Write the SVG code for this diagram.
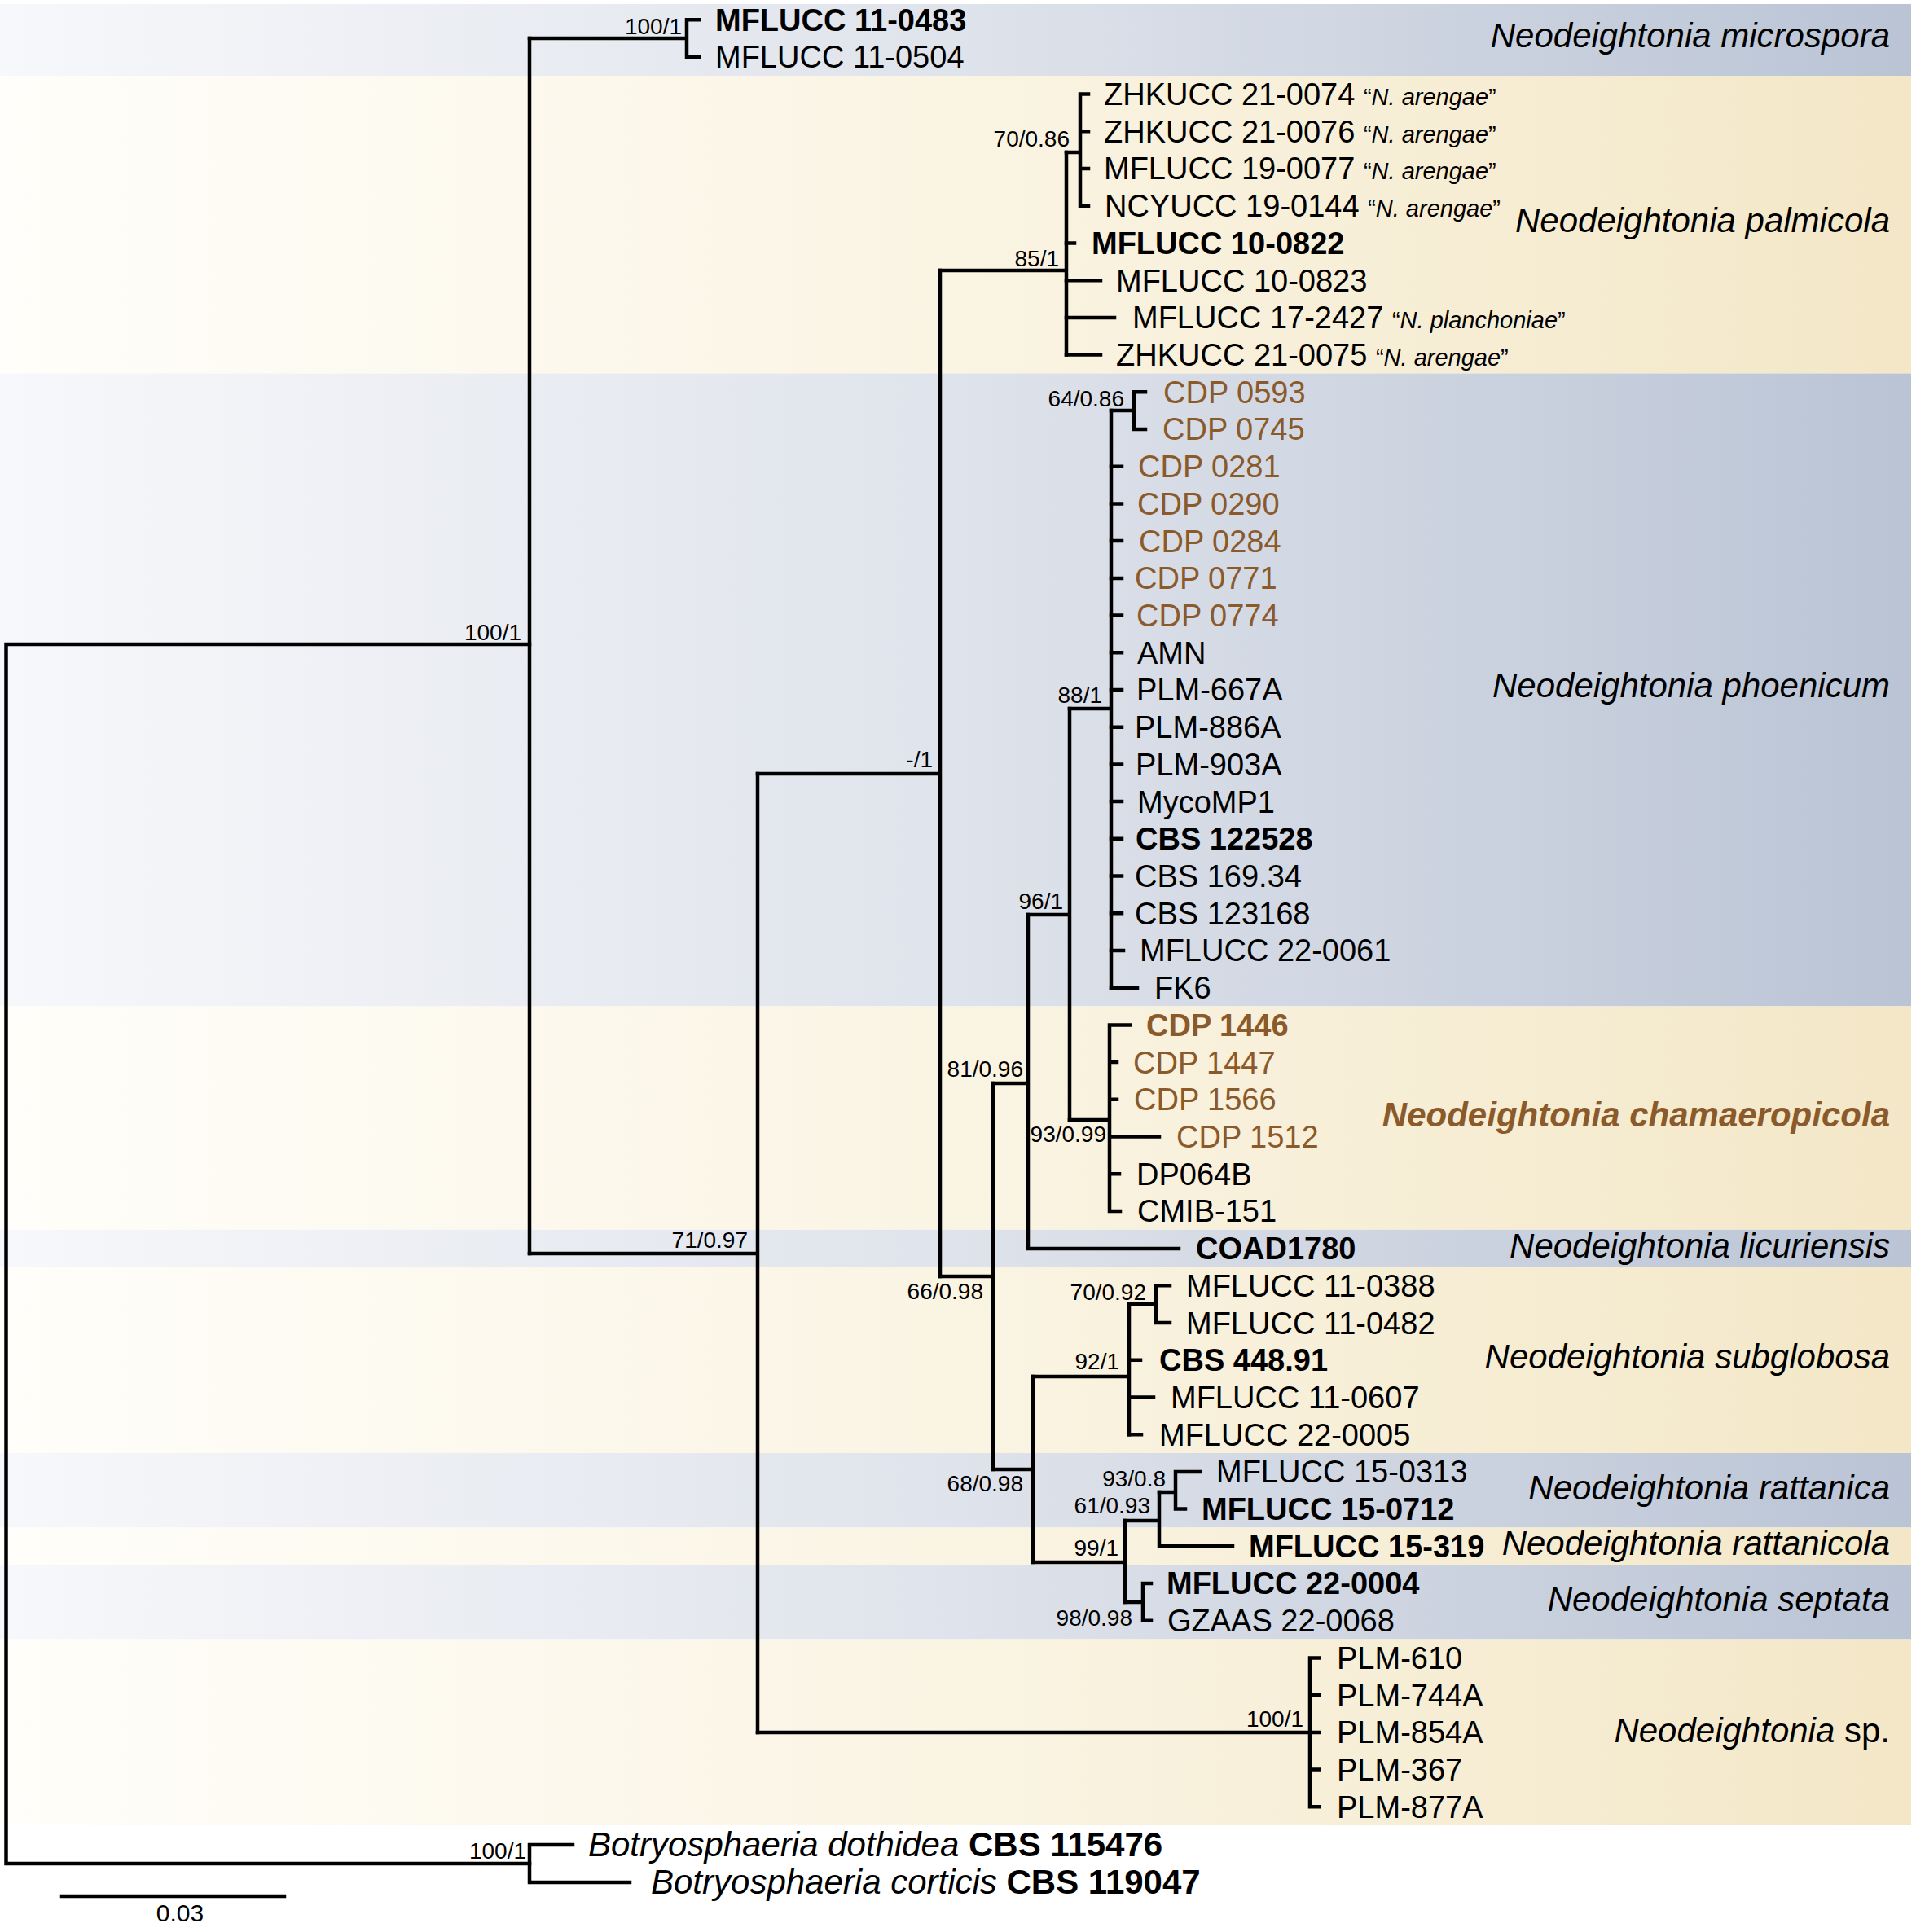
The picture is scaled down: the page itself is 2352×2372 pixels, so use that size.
<svg xmlns="http://www.w3.org/2000/svg" width="2352" height="2372" viewBox="0 0 2352 2372">
<defs>
<linearGradient id="gb" x1="0" y1="0" x2="1" y2="0">
<stop offset="0" stop-color="#f7f8fb"/><stop offset="0.5" stop-color="#dfe3eb"/><stop offset="1" stop-color="#bac4d5"/>
</linearGradient>
<linearGradient id="gy" x1="0" y1="0" x2="1" y2="0">
<stop offset="0" stop-color="#fffefa"/><stop offset="0.5" stop-color="#faf4e3"/><stop offset="1" stop-color="#f3e7c7"/>
</linearGradient>
<style>
text{font-family:"Liberation Sans",Arial,Helvetica,sans-serif;fill:#000}
.t{font-size:38px}
.o{font-size:42px}
.b{font-weight:bold}
.br{fill:#8b5a2b}
.s{font-size:28px;text-anchor:end}
.sp{font-size:42px;font-style:italic;text-anchor:end}
.q{font-size:29px}
.i{font-style:italic}
.ln{stroke:#000;stroke-width:4.5;fill:none;stroke-linecap:square}
</style>
</defs>
<rect width="2352" height="2372" fill="#ffffff"/>
<g id="bands">
<rect x="0" y="5" width="2346" height="88" fill="url(#gb)"/>
<rect x="0" y="93" width="2346" height="365.5" fill="url(#gy)"/>
<rect x="0" y="458.5" width="2346" height="777" fill="url(#gb)"/>
<rect x="0" y="1235.5" width="2346" height="274.3" fill="url(#gy)"/>
<rect x="0" y="1509.8" width="2346" height="45.7" fill="url(#gb)"/>
<rect x="0" y="1555.5" width="2346" height="228.5" fill="url(#gy)"/>
<rect x="0" y="1784" width="2346" height="91.5" fill="url(#gb)"/>
<rect x="0" y="1875.5" width="2346" height="45.5" fill="url(#gy)"/>
<rect x="0" y="1921" width="2346" height="91.5" fill="url(#gb)"/>
<rect x="0" y="2012.5" width="2346" height="228.5" fill="url(#gy)"/>
</g>
<g id="connectors" class="ln">
<path d="M7.5,791V2288M7.5,791H650M7.5,2288H650"/>
<path d="M650,2265V2311M650,2265H703M650,2311H773"/>
<path d="M650,47V1539"/>
<path d="M650,47H843M843,24.2V69.9M843,24.2H858M843,69.9H858"/>
<path d="M650,1539H930M930,950V2127"/>
<path d="M930,950H1154M1154,332V1567"/>
<path d="M1154,332H1309M1309,187V435.6"/>
<path d="M1309,187H1326M1326,115.6V252.8M1326,115.6H1336M1326,161.3H1336M1326,207H1336M1326,252.8H1336"/>
<path d="M1309,298.5H1319M1309,344.2H1351M1309,389.9H1368M1309,435.6H1351"/>
<path d="M1154,1567H1219M1219,1330V1804"/>
<path d="M1219,1330H1262M1262,1123V1533M1262,1533H1447"/>
<path d="M1262,1123H1313M1313,870V1375"/>
<path d="M1313,870H1364M1364,504V1212.7"/>
<path d="M1364,504H1392M1392,481.3V527M1392,481.3H1406M1392,527H1406"/>
<path d="M1364,572.7H1377M1364,618.4H1377M1364,664.1H1377M1364,709.9H1377M1364,755.6H1377M1364,801.3H1377M1364,847H1377M1364,892.7H1377M1364,938.4H1377M1364,984.1H1377M1364,1029.8H1377M1364,1075.5H1377M1364,1121.2H1377M1364,1167H1379M1364,1212.7H1396"/>
<path d="M1313,1375H1362M1362,1258.4V1486.9M1362,1258.4H1387M1362,1304.1H1371M1362,1349.8H1371M1362,1395.5H1423M1362,1441.2H1374M1362,1486.9H1375"/>
<path d="M1219,1804H1268M1268,1690V1918"/>
<path d="M1268,1690H1386M1386,1601V1761.2"/>
<path d="M1386,1601H1419M1419,1578.3V1624.1M1419,1578.3H1436M1419,1624.1H1436"/>
<path d="M1386,1669.8H1400M1386,1715.5H1416M1386,1761.2H1401"/>
<path d="M1268,1918H1381M1381,1867V1967"/>
<path d="M1381,1867H1423M1423,1832V1898.3M1423,1898.3H1513"/>
<path d="M1423,1832H1443M1443,1806.9V1852.6M1443,1806.9H1473M1443,1852.6H1455"/>
<path d="M1381,1967H1403M1403,1944V1989.7M1403,1944H1413M1403,1989.7H1413"/>
<path d="M930,2127H1608M1608,2035.4V2218.3M1608,2035.4H1619M1608,2081.1H1619M1608,2126.9H1619M1608,2172.6H1619M1608,2218.3H1619"/>
</g>
<g id="support">
<text class="s" x="640" y="786">100/1</text>
<text class="s" x="646" y="2282">100/1</text>
<text class="s" x="837" y="42">100/1</text>
<text class="s" x="918" y="1532">71/0.97</text>
<text class="s" x="1145" y="942">-/1</text>
<text class="s" x="1300" y="327">85/1</text>
<text class="s" x="1313" y="180">70/0.86</text>
<text class="s" x="1207" y="1595">66/0.98</text>
<text class="s" x="1256" y="1322">81/0.96</text>
<text class="s" x="1305" y="1116">96/1</text>
<text class="s" x="1353" y="863">88/1</text>
<text class="s" x="1380" y="499">64/0.86</text>
<text class="s" x="1358" y="1402">93/0.99</text>
<text class="s" x="1256" y="1831">68/0.98</text>
<text class="s" x="1374" y="1681">92/1</text>
<text class="s" x="1407" y="1596">70/0.92</text>
<text class="s" x="1431" y="1825">93/0.8</text>
<text class="s" x="1412" y="1858">61/0.93</text>
<text class="s" x="1373" y="1910">99/1</text>
<text class="s" x="1390" y="1996">98/0.98</text>
<text class="s" x="1600" y="2120">100/1</text>
</g>
<g id="taxa">
<text id="t1" class="t b" x="878" y="37.6">MFLUCC 11-0483</text>
<text id="t2" class="t" x="878" y="83.3">MFLUCC 11-0504</text>
<text id="t3" class="t" x="1355" y="129">ZHKUCC 21-0074 <tspan class="q">“<tspan class="i">N. arengae</tspan>”</tspan></text>
<text id="t4" class="t" x="1355" y="174.7">ZHKUCC 21-0076 <tspan class="q">“<tspan class="i">N. arengae</tspan>”</tspan></text>
<text id="t5" class="t" x="1355" y="220.4">MFLUCC 19-0077 <tspan class="q">“<tspan class="i">N. arengae</tspan>”</tspan></text>
<text id="t6" class="t" x="1356" y="266.2">NCYUCC 19-0144 <tspan class="q">“<tspan class="i">N. arengae</tspan>”</tspan></text>
<text id="t7" class="t b" x="1340" y="311.9">MFLUCC 10-0822</text>
<text id="t8" class="t" x="1370" y="357.6">MFLUCC 10-0823</text>
<text id="t9" class="t" x="1390" y="403.3">MFLUCC 17-2427 <tspan class="q">“<tspan class="i">N. planchoniae</tspan>”</tspan></text>
<text id="t10" class="t" x="1370" y="449">ZHKUCC 21-0075 <tspan class="q">“<tspan class="i">N. arengae</tspan>”</tspan></text>
<text id="t11" class="t br" x="1428" y="494.7">CDP 0593</text>
<text id="t12" class="t br" x="1427" y="540.4">CDP 0745</text>
<text id="t13" class="t br" x="1397" y="586.1">CDP 0281</text>
<text id="t14" class="t br" x="1396" y="631.8">CDP 0290</text>
<text id="t15" class="t br" x="1398" y="677.5">CDP 0284</text>
<text id="t16" class="t br" x="1393" y="723.3">CDP 0771</text>
<text id="t17" class="t br" x="1395" y="769">CDP 0774</text>
<text id="t18" class="t" x="1396" y="814.7">AMN</text>
<text id="t19" class="t" x="1395" y="860.4">PLM-667A</text>
<text id="t20" class="t" x="1393" y="906.1">PLM-886A</text>
<text id="t21" class="t" x="1394" y="951.8">PLM-903A</text>
<text id="t22" class="t" x="1396" y="997.5">MycoMP1</text>
<text id="t23" class="t b" x="1394" y="1043.2">CBS 122528</text>
<text id="t24" class="t" x="1393" y="1088.9">CBS 169.34</text>
<text id="t25" class="t" x="1393" y="1134.6">CBS 123168</text>
<text id="t26" class="t" x="1399" y="1180.4">MFLUCC 22-0061</text>
<text id="t27" class="t" x="1417" y="1226.1">FK6</text>
<text id="t28" class="t b br" x="1407" y="1271.8">CDP 1446</text>
<text id="t29" class="t br" x="1391" y="1317.5">CDP 1447</text>
<text id="t30" class="t br" x="1392" y="1363.2">CDP 1566</text>
<text id="t31" class="t br" x="1444" y="1408.9">CDP 1512</text>
<text id="t32" class="t" x="1395" y="1454.6">DP064B</text>
<text id="t33" class="t" x="1396" y="1500.3">CMIB-151</text>
<text id="t34" class="t b" x="1468" y="1546">COAD1780</text>
<text id="t35" class="t" x="1456" y="1591.7">MFLUCC 11-0388</text>
<text id="t36" class="t" x="1456" y="1637.5">MFLUCC 11-0482</text>
<text id="t37" class="t b" x="1423" y="1683.2">CBS 448.91</text>
<text id="t38" class="t" x="1437" y="1728.9">MFLUCC 11-0607</text>
<text id="t39" class="t" x="1423" y="1774.6">MFLUCC 22-0005</text>
<text id="t40" class="t" x="1493" y="1820.3">MFLUCC 15-0313</text>
<text id="t41" class="t b" x="1475" y="1866">MFLUCC 15-0712</text>
<text id="t42" class="t b" x="1533" y="1911.7">MFLUCC 15-319</text>
<text id="t43" class="t b" x="1432" y="1957.4">MFLUCC 22-0004</text>
<text id="t44" class="t" x="1433" y="2003.1">GZAAS 22-0068</text>
<text id="t45" class="t" x="1641" y="2048.8">PLM-610</text>
<text id="t46" class="t" x="1641" y="2094.5">PLM-744A</text>
<text id="t47" class="t" x="1641" y="2140.3">PLM-854A</text>
<text id="t48" class="t" x="1641" y="2186">PLM-367</text>
<text id="t49" class="t" x="1641" y="2231.7">PLM-877A</text>
<text id="t50" class="o" x="722" y="2279"><tspan class="i">Botryosphaeria dothidea</tspan> <tspan class="b">CBS 115476</tspan></text>
<text id="t51" class="o" x="799" y="2325"><tspan class="i">Botryosphaeria corticis</tspan> <tspan class="b">CBS 119047</tspan></text>
</g>
<g id="species">
<text class="sp" x="2320" y="58">Neodeightonia microspora</text>
<text class="sp" x="2320" y="285">Neodeightonia palmicola</text>
<text class="sp" x="2320" y="856">Neodeightonia phoenicum</text>
<text class="sp b br" x="2320" y="1383">Neodeightonia chamaeropicola</text>
<text class="sp" x="2320" y="1544">Neodeightonia licuriensis</text>
<text class="sp" x="2320" y="1680">Neodeightonia subglobosa</text>
<text class="sp" x="2320" y="1841">Neodeightonia rattanica</text>
<text class="sp" x="2320" y="1909">Neodeightonia rattanicola</text>
<text class="sp" x="2320" y="1978">Neodeightonia septata</text>
<text class="sp" x="2320" y="2139">Neodeightonia <tspan font-style="normal">sp.</tspan></text>
</g>
<g id="scalebar">
<path class="ln" d="M76,2328H349"/>
<text x="221" y="2359" font-size="30" text-anchor="middle">0.03</text>
</g>
</svg>
